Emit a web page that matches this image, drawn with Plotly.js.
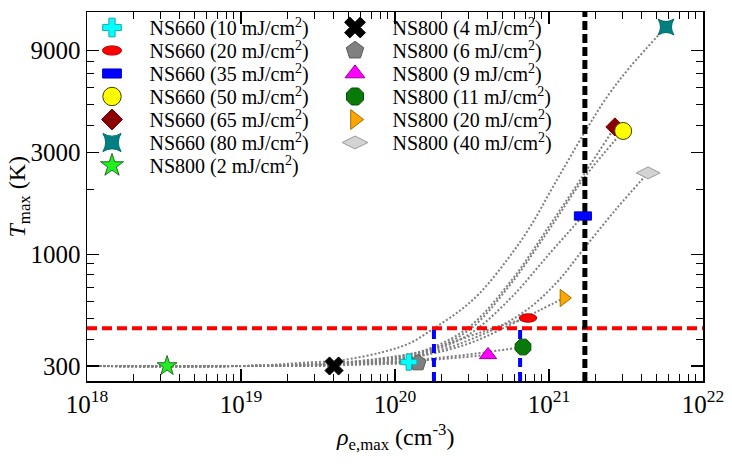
<!DOCTYPE html>
<html>
<head>
<meta charset="utf-8">
<script src="https://cdn.plot.ly/plotly-3.0.1.min.js"></script>
<style>
  html, body { margin: 0; padding: 0; background: #fff; }
  #chart { width: 732px; height: 471px; }
</style>
</head>
<body>
<div id="chart"></div>
<script>
// ---- measured peak values for each sample / fluence ----
const seriesNames = [
  'NS660 (10 mJ/cm<sup>2</sup>)', 'NS660 (20 mJ/cm<sup>2</sup>)', 'NS660 (35 mJ/cm<sup>2</sup>)',
  'NS660 (50 mJ/cm<sup>2</sup>)', 'NS660 (65 mJ/cm<sup>2</sup>)', 'NS660 (80 mJ/cm<sup>2</sup>)',
  'NS800 (2 mJ/cm<sup>2</sup>)', 'NS800 (4 mJ/cm<sup>2</sup>)', 'NS800 (6 mJ/cm<sup>2</sup>)',
  'NS800 (9 mJ/cm<sup>2</sup>)', 'NS800 (11 mJ/cm<sup>2</sup>)', 'NS800 (20 mJ/cm<sup>2</sup>)',
  'NS800 (40 mJ/cm<sup>2</sup>)'
];
const rhoMax = [1.23e20, 7.31e20, 1.66e21, 3.03e21, 2.68e21, 5.75e21,
                3.31e18, 4.02e19, 1.41e20, 4.02e20, 6.78e20, 1.25e21, 4.40e21];
const tMax   = [313, 503, 1509, 3770, 3937, 11550,
                300, 300, 310, 338, 368, 624, 2400];

// ---- model curves T(rho) for each fluence ----
const fitNS660_10_rho = [1e18, 1e19, 4e19, 8e19, 1.23e20];
const fitNS660_10_T   = [300, 300, 304, 309, 313];
const fitNS660_20_rho = [1e18, 1e19, 3.8e19, 1.45e20, 3.07e20, 4.81e20, 7.31e20];
const fitNS660_20_T   = [300, 300, 307, 349, 414, 462, 503];
const fitNS660_35_rho = [1e18, 1e19, 3.8e19, 8.3e19, 1.45e20, 3.0e20, 5.6e20, 1.0e21, 1.66e21];
const fitNS660_35_T   = [300, 300, 307, 319, 338, 420, 620, 1000, 1509];
const fitNS660_50_rho = [1e18, 1e19, 3.8e19, 8.3e19, 1.45e20, 3.0e20, 5.6e20, 1.0e21, 1.71e21, 3.03e21];
const fitNS660_50_T   = [300, 300, 308, 322, 343, 440, 720, 1300, 2300, 3770];
const fitNS660_65_rho = [1e18, 1e19, 3.8e19, 8.3e19, 1.45e20, 2.95e20, 5.6e20, 1.0e21, 1.71e21, 2.68e21];
const fitNS660_65_T   = [300, 300, 309, 325, 349, 450, 741, 1350, 2400, 3937];
const fitNS660_80_rho = [1e18, 1.14e19, 2.42e19, 4.59e19, 8.36e19, 1.25e20, 1.79e20, 2.64e20, 3.56e20,
                         5.34e20, 7.53e20, 1.06e21, 1.71e21, 2.38e21, 3.36e21, 5.75e21];
const fitNS660_80_T   = [300, 300, 310, 320, 349, 384, 450, 545, 659,
                         940, 1340, 2063, 3729, 5437, 7510, 11550];
const fitNS800_2_rho  = [1e18, 3.31e18];
const fitNS800_2_T    = [300, 300];
const fitNS800_4_rho  = [1e18, 4.02e19];
const fitNS800_4_T    = [300, 300];
const fitNS800_6_rho  = [1e18, 1e19, 4e19, 8e19, 1.41e20];
const fitNS800_6_T    = [300, 300, 303, 306, 310];
const fitNS800_9_rho  = [1e18, 1e19, 4e19, 8e19, 1.96e20, 4.02e20];
const fitNS800_9_T    = [300, 300, 304, 310, 323, 338];
const fitNS800_11_rho = [1e18, 1e19, 4e19, 8e19, 1.96e20, 4.14e20, 6.78e20];
const fitNS800_11_T   = [300, 300, 305, 312, 328, 350, 368];
const fitNS800_20_rho = [1e18, 1e19, 3.8e19, 1.45e20, 3.07e20, 5.58e20, 8.75e20, 1.25e21];
const fitNS800_20_T   = [300, 300, 306, 334, 384, 467, 548, 624];
const fitNS800_40_rho = [1e18, 1e19, 3.8e19, 1.45e20, 4.14e20, 7.2e20, 1.13e21, 1.66e21, 2.76e21, 4.40e21];
const fitNS800_40_T   = [300, 300, 307, 335, 437, 550, 741, 1047, 1641, 2400];

// ---- reference levels ----
const tThreshold = 450;                 // K, horizontal red line
const rhoCrossing = [1.79e20, 6.49e20]; // blue markers down to the threshold
const rhoCritical = 1.71e21;            // black vertical line

// ---- axis ticks and titles ----
const xTickVals = [1e18, 1e19, 1e20, 1e21, 1e22];
const xTickText = ['10<sup>18</sup>', '10<sup>19</sup>', '10<sup>20</sup>', '10<sup>21</sup>', '10<sup>22</sup>'];
const yTickVals = [300, 1000, 3000, 9000];
const yTickText = ['300', '1000', '3000', '9000'];
const yMinorVals = [400, 500, 600, 700, 800, 900, 2000, 4000, 5000, 6000, 7000, 8000];
const xTitle = '<i>ρ</i><sub>e,max</sub> (cm<sup>-3</sup>)';
const yTitle = '<i>T</i><sub>max</sub> (K)';

// ---- styling ----
const X_RANGE = [18, 22];
const Y_RANGE = [2.4069, 4.1328];
const FONT = '"Liberation Serif", "Times New Roman", serif';

const markerStyles = [
  {symbol: 'cross',          size: 13.5, color: '#00FFFF', line: '#18A8A8'},
  {symbol: 'circle',         size: 12,   color: '#FF0000', line: '#B00000', stretch: [1.45, 0.7]},
  {symbol: 'square',         size: 11,   color: '#0000FF', line: '#0000CC', stretch: [1.55, 0.75]},
  {symbol: 'circle',         size: 17,   color: '#FFFF00', line: '#404000'},
  {symbol: 'diamond',        size: 14,   color: '#8B0000', line: '#7A0000'},
  {symbol: 'star-diamond',   size: 16,   color: '#008080', line: '#006A6A', angle: 45},
  {symbol: 'star',           size: 15,   color: '#22EE22', line: '#207020'},
  {symbol: 'x',              size: 16,   color: '#000000', line: '#000000'},
  {symbol: 'pentagon',       size: 17,   color: '#808080', line: '#5A5A5A'},
  {symbol: 'triangle-up',    size: 15,   color: '#FF00FF', line: '#9A009A'},
  {symbol: 'octagon',        size: 17,   color: '#087A08', line: '#0A4A0A'},
  {symbol: 'triangle-right', size: 15,   color: '#FFA500', line: '#A07000'},
  {symbol: 'diamond-wide',   size: 17,   color: '#D3D3D3', line: '#9A9A9A'}
];
// stacking of the point markers (later = on top)
const drawOrder = [6, 7, 8, 9, 10, 11, 12, 0, 1, 2, 4, 3, 5];

const fitCurves = [
  [fitNS660_10_rho, fitNS660_10_T], [fitNS660_20_rho, fitNS660_20_T], [fitNS660_35_rho, fitNS660_35_T],
  [fitNS660_50_rho, fitNS660_50_T], [fitNS660_65_rho, fitNS660_65_T], [fitNS660_80_rho, fitNS660_80_T],
  [fitNS800_2_rho, fitNS800_2_T], [fitNS800_4_rho, fitNS800_4_T], [fitNS800_6_rho, fitNS800_6_T],
  [fitNS800_9_rho, fitNS800_9_T], [fitNS800_11_rho, fitNS800_11_T], [fitNS800_20_rho, fitNS800_20_T],
  [fitNS800_40_rho, fitNS800_40_T]
];

const traces = [];

// dotted model curves
fitCurves.forEach(([xs, ys]) => {
  traces.push({
    type: 'scatter', mode: 'lines', x: xs, y: ys, showlegend: false, hoverinfo: 'skip',
    line: {color: '#7F7F7F', width: 2, dash: '2px,2px', shape: 'spline', smoothing: 1}
  });
});

const yBottom = Math.pow(10, Y_RANGE[0]);
const yTop = Math.pow(10, Y_RANGE[1]);

// threshold temperature
traces.push({
  type: 'scatter', mode: 'lines', x: [Math.pow(10, X_RANGE[0]), Math.pow(10, X_RANGE[1])],
  y: [tThreshold, tThreshold], showlegend: false, hoverinfo: 'skip',
  line: {color: '#FF0000', width: 4, dash: '10px,5px'}
});
// densities where the threshold is reached
rhoCrossing.forEach(r => {
  traces.push({
    type: 'scatter', mode: 'lines', x: [r, r], y: [yBottom, tThreshold], showlegend: false, hoverinfo: 'skip',
    line: {color: '#0000FF', width: 4, dash: '9px,5px'}
  });
});
// critical density
traces.push({
  type: 'scatter', mode: 'lines', x: [rhoCritical, rhoCritical], y: [yBottom, yTop],
  showlegend: false, hoverinfo: 'skip',
  line: {color: '#000000', width: 5, dash: '9px,4px'}
});

// measured points
drawOrder.forEach(i => {
  const st = markerStyles[i];
  traces.push({
    type: 'scatter', mode: 'markers', name: seriesNames[i],
    x: [rhoMax[i]], y: [tMax[i]],
    legend: i < 7 ? 'legend' : 'legend2', legendrank: 100 + i,
    meta: {stretch: st.stretch || null},
    marker: {symbol: st.symbol, size: st.size, color: st.color, angle: st.angle || 0,
             line: {color: st.line, width: 1}}
  });
});

const xMinorVals = [];
for (let d = 18; d < 22; d++) for (let k = 2; k <= 9; k++) xMinorVals.push(k * Math.pow(10, d));

const axisCommon = {
  showline: true, linecolor: '#000', linewidth: 1.5, mirror: 'allticks',
  ticks: 'inside', ticklen: 12, tickwidth: 1.2, tickcolor: '#000',
  showgrid: false, zeroline: false, automargin: false,
  tickfont: {family: FONT, size: 25, color: '#000'}
};

const legendCommon = {
  xref: 'container', yref: 'container', xanchor: 'left', yanchor: 'top',
  bgcolor: 'rgba(0,0,0,0)', borderwidth: 0, itemwidth: 65, traceorder: 'normal',
  font: {family: FONT, size: 20, color: '#000'}, itemclick: false, itemdoubleclick: false
};

const layout = {
  width: 732, height: 471,
  margin: {l: 87, r: 29, t: 12, b: 90, autoexpand: false},
  paper_bgcolor: '#fff', plot_bgcolor: '#fff',
  font: {family: FONT, color: '#000'},
  showlegend: true,
  xaxis: Object.assign({}, axisCommon, {
    type: 'log', range: X_RANGE, tickmode: 'array', tickvals: xTickVals, ticktext: xTickText,
    minor: {tickmode: 'array', tickvals: xMinorVals, ticklen: 7, tickwidth: 1, tickcolor: '#000', ticks: 'inside', showgrid: false}
  }),
  yaxis: Object.assign({}, axisCommon, {
    type: 'log', range: Y_RANGE, tickmode: 'array', tickvals: yTickVals, ticktext: yTickText,
    minor: {tickmode: 'array', tickvals: yMinorVals, ticklen: 7, tickwidth: 1, tickcolor: '#000', ticks: 'inside', showgrid: false}
  }),
  annotations: [
    {text: xTitle, xref: 'paper', yref: 'paper', x: 0.5, y: -0.152, xanchor: 'center', yanchor: 'middle',
     showarrow: false, font: {family: FONT, size: 24, color: '#000'}},
    {text: yTitle, xref: 'paper', yref: 'paper', x: -0.112, y: 0.5, xanchor: 'center', yanchor: 'middle',
     textangle: -90, showarrow: false, font: {family: FONT, size: 24, color: '#000'}}
  ],
  legend: Object.assign({}, legendCommon, {x: 74.5 / 732, y: 1 - 8 / 471}),
  legend2: Object.assign({}, legendCommon, {x: 317.5 / 732, y: 1 - 8 / 471})
};

const gd = document.getElementById('chart');

function setScale(el, sx, sy) {
  const t = (el.getAttribute('transform') || '').replace(/\s*scale\([^)]*\)/g, '');
  el.setAttribute('transform', t + ' scale(' + sx + ',' + sy + ')');
  el.style.vectorEffect = 'non-scaling-stroke';
}

function finishDrawing() {
  // elliptical / rectangular point shapes
  gd.querySelectorAll('.scatterlayer .trace').forEach(g => {
    const d = g.__data__;
    if (!d || !d[0] || !d[0].trace) return;
    const m = d[0].trace.meta;
    if (!m || !m.stretch) return;
    g.querySelectorAll('path.point').forEach(p => setScale(p, m.stretch[0], m.stretch[1]));
  });
  // legend symbols and row spacing
  ['legend', 'legend2'].forEach(cls => {
    const items = Array.from(gd.querySelectorAll('.infolayer .' + cls + ' .traces'));
    if (!items.length) return;
    const parse = el => {
      const mt = /translate\(\s*([-\d.eE]+)[ ,]+([-\d.eE]+)\s*\)/.exec(el.getAttribute('transform') || '');
      return mt ? [parseFloat(mt[1]), parseFloat(mt[2])] : [0, 0];
    };
    items.sort((a, b) => parse(a)[1] - parse(b)[1]);
    if (!items[0].dataset.y0) items[0].dataset.y0 = parse(items[0])[1];
    const y0 = parseFloat(items[0].dataset.y0);
    items.forEach((el, i) => {
      const [x] = parse(el);
      el.setAttribute('transform', 'translate(' + x + ',' + (y0 + i * 23) + ')');
      const d = el.__data__;
      const tr = d && d[0] && d[0].trace;
      const st = tr && tr.meta && tr.meta.stretch;
      el.querySelectorAll('.legendpoints path.scatterpts').forEach(p => {
        if (st) setScale(p, 1.1 * st[0], 1.1 * st[1]);
        else setScale(p, 1.15, 1.15);
      });
    });
  });
}

Plotly.newPlot(gd, traces, layout, {staticPlot: true, displayModeBar: false}).then(() => {
  finishDrawing();
  gd.on('plotly_afterplot', finishDrawing);
});
</script>
</body>
</html>
